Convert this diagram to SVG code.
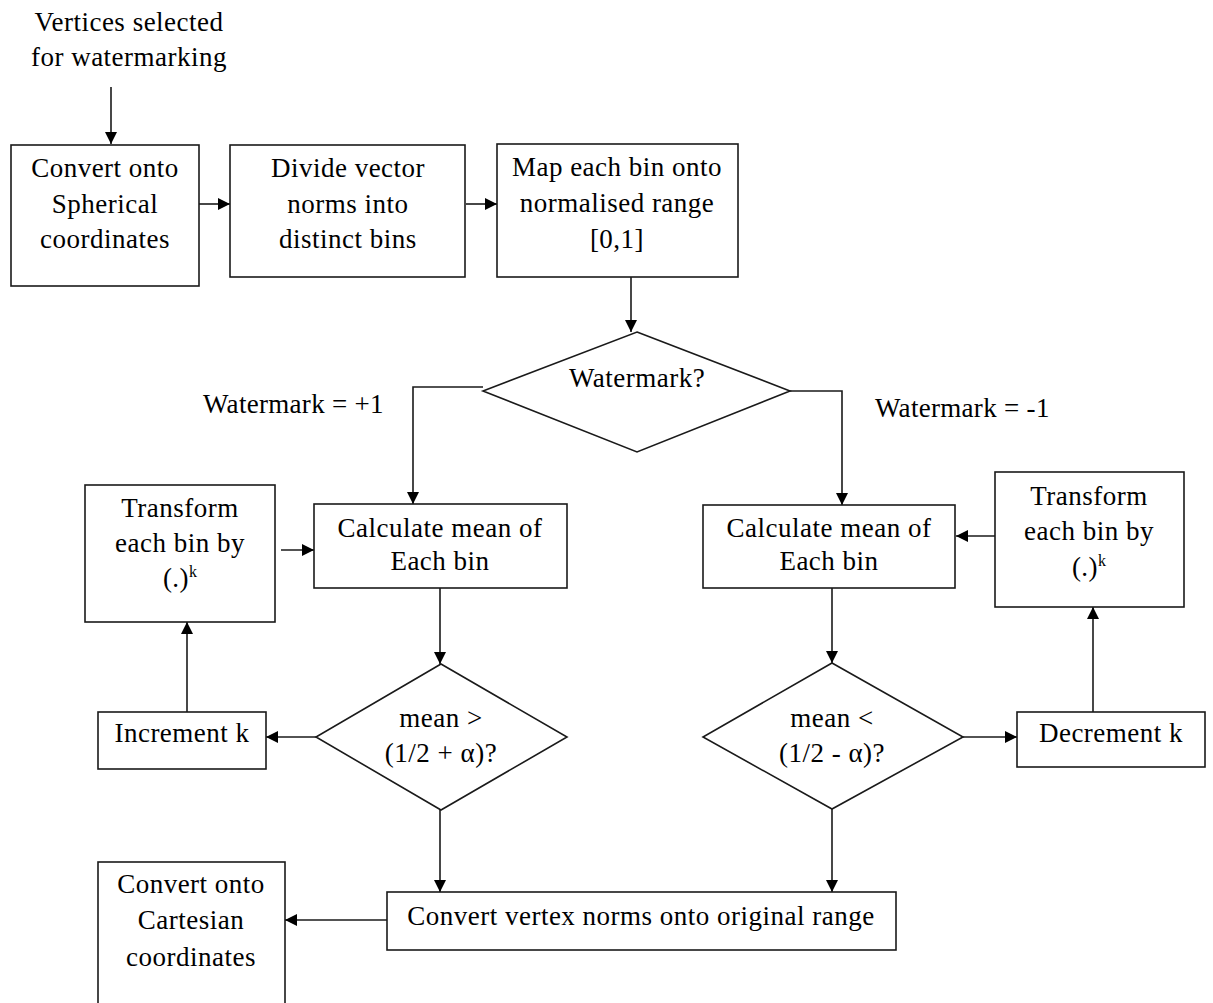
<svg xmlns="http://www.w3.org/2000/svg" width="1213" height="1003" viewBox="0 0 1213 1003">
  <style>
    .box { fill: #ffffff; stroke: #1a1a1a; stroke-width: 1.6; }
    .lbl { font-family: "Liberation Serif", "Times New Roman", serif; font-size: 27px; letter-spacing: 0.5px; fill: #000000; text-anchor: middle; }
    .free { font-family: "Liberation Serif", "Times New Roman", serif; font-size: 27px; letter-spacing: 0.3px; fill: #000000; }
    .sup { font-size: 16px; letter-spacing: 0; }
    .edge { fill: none; stroke: #1a1a1a; stroke-width: 1.6; }
  </style>
  <defs>
    <marker id="arrow" markerUnits="userSpaceOnUse" markerWidth="12" markerHeight="12" viewBox="0 0 12 12" refX="12" refY="6" orient="auto">
      <path d="M0,0 L12,6 L0,12 Z" fill="#000000"/>
    </marker>
  </defs>
  <rect width="1213" height="1003" fill="#ffffff"/>

  <!-- connectors -->
  <g id="connectors">
    <path class="edge" d="M111,87 V144" marker-end="url(#arrow)"/>
    <path class="edge" d="M199,204 H230" marker-end="url(#arrow)"/>
    <path class="edge" d="M466,204 H497" marker-end="url(#arrow)"/>
    <path class="edge" d="M631,277 V332" marker-end="url(#arrow)"/>
    <path class="edge" d="M483,387 H413 V504" marker-end="url(#arrow)"/>
    <path class="edge" d="M790,391 H842 V505" marker-end="url(#arrow)"/>
    <path class="edge" d="M281,550 H314" marker-end="url(#arrow)"/>
    <path class="edge" d="M995,536 H956" marker-end="url(#arrow)"/>
    <path class="edge" d="M440,588 V664" marker-end="url(#arrow)"/>
    <path class="edge" d="M832,588 V663" marker-end="url(#arrow)"/>
    <path class="edge" d="M316,737 H266" marker-end="url(#arrow)"/>
    <path class="edge" d="M963,737 H1017" marker-end="url(#arrow)"/>
    <path class="edge" d="M187,712 V622" marker-end="url(#arrow)"/>
    <path class="edge" d="M1093,712 V607" marker-end="url(#arrow)"/>
    <path class="edge" d="M440,810 V892" marker-end="url(#arrow)"/>
    <path class="edge" d="M832,809 V892" marker-end="url(#arrow)"/>
    <path class="edge" d="M387,920 H285" marker-end="url(#arrow)"/>
  </g>

  <!-- free labels -->
  <g id="input-label">
    <text class="lbl" x="129" y="31">Vertices selected</text>
    <text class="lbl" x="129" y="66">for watermarking</text>
  </g>
  <g id="label-plus">
    <text class="free" x="203" y="413">Watermark = +1</text>
  </g>
  <g id="label-minus">
    <text class="free" x="875" y="417">Watermark = -1</text>
  </g>

  <!-- nodes -->
  <g id="to-spherical">
    <rect class="box" x="11" y="145" width="188" height="141"/>
    <text class="lbl" x="105" y="177">Convert onto</text>
    <text class="lbl" x="105" y="213">Spherical</text>
    <text class="lbl" x="105" y="248">coordinates</text>
  </g>
  <g id="divide-bins">
    <rect class="box" x="230" y="145" width="235" height="132"/>
    <text class="lbl" x="348" y="177">Divide vector</text>
    <text class="lbl" x="348" y="213">norms into</text>
    <text class="lbl" x="348" y="248">distinct bins</text>
  </g>
  <g id="map-range">
    <rect class="box" x="497" y="144" width="241" height="133"/>
    <text class="lbl" x="617" y="176">Map each bin onto</text>
    <text class="lbl" x="617" y="212">normalised range</text>
    <text class="lbl" x="617" y="248">[0,1]</text>
  </g>
  <g id="watermark-decision">
    <polygon class="box" points="637,332 790,391 637,452 483,391"/>
    <text class="lbl" x="637" y="387">Watermark?</text>
  </g>
  <g id="mean-left">
    <rect class="box" x="314" y="504" width="253" height="84"/>
    <text class="lbl" x="440" y="537">Calculate mean of</text>
    <text class="lbl" x="440" y="570">Each bin</text>
  </g>
  <g id="transform-left">
    <rect class="box" x="85" y="485" width="190" height="137"/>
    <text class="lbl" x="180" y="517">Transform</text>
    <text class="lbl" x="180" y="552">each bin by</text>
    <text class="lbl" x="180" y="587">(.)<tspan class="sup" dy="-10">k</tspan></text>
  </g>
  <g id="check-upper">
    <polygon class="box" points="441,664 567,737 441,810 316,737"/>
    <text class="lbl" x="441" y="727">mean &gt;</text>
    <text class="lbl" x="441" y="762">(1/2 + α)?</text>
  </g>
  <g id="increment-k">
    <rect class="box" x="98" y="712" width="168" height="57"/>
    <text class="lbl" x="182" y="742">Increment k</text>
  </g>
  <g id="mean-right">
    <rect class="box" x="703" y="505" width="252" height="83"/>
    <text class="lbl" x="829" y="537">Calculate mean of</text>
    <text class="lbl" x="829" y="570">Each bin</text>
  </g>
  <g id="transform-right">
    <rect class="box" x="995" y="472" width="189" height="135"/>
    <text class="lbl" x="1089" y="505">Transform</text>
    <text class="lbl" x="1089" y="540">each bin by</text>
    <text class="lbl" x="1089" y="576">(.)<tspan class="sup" dy="-10">k</tspan></text>
  </g>
  <g id="check-lower">
    <polygon class="box" points="832,663 963,737 832,809 703,737"/>
    <text class="lbl" x="832" y="727">mean &lt;</text>
    <text class="lbl" x="832" y="762">(1/2 - α)?</text>
  </g>
  <g id="decrement-k">
    <rect class="box" x="1017" y="712" width="188" height="55"/>
    <text class="lbl" x="1111" y="742">Decrement k</text>
  </g>
  <g id="restore-range">
    <rect class="box" x="387" y="892" width="509" height="58"/>
    <text class="lbl" x="641" y="925">Convert vertex norms onto original range</text>
  </g>
  <g id="to-cartesian">
    <rect class="box" x="98" y="862" width="187" height="150"/>
    <text class="lbl" x="191" y="893">Convert onto</text>
    <text class="lbl" x="191" y="929">Cartesian</text>
    <text class="lbl" x="191" y="966">coordinates</text>
  </g>
</svg>
